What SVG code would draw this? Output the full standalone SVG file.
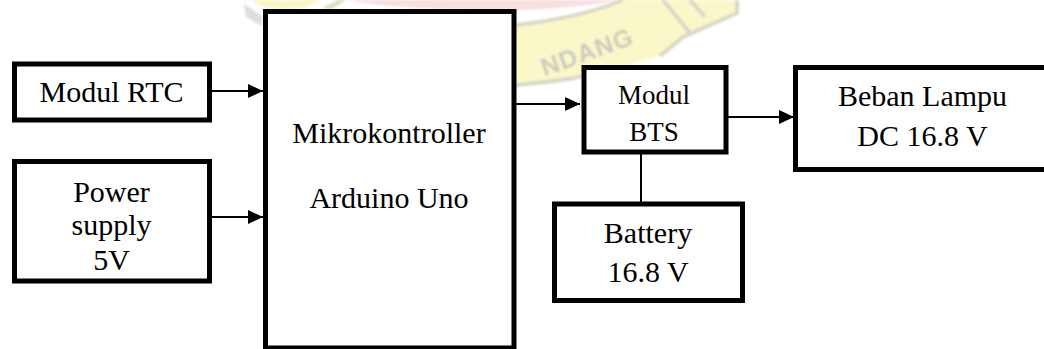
<svg xmlns="http://www.w3.org/2000/svg" width="1044" height="349" viewBox="0 0 1044 349">
<style>
.box{fill:#fff;stroke:#000;stroke-width:5}
.t{font-family:"Liberation Serif","Times New Roman",serif;font-size:30px;fill:#000;text-anchor:middle}
.s{font-size:27px}
.c{fill:none;stroke:#000;stroke-width:2}
.g{fill:none;stroke:#d8d8c8;stroke-width:4}
</style>
<defs>
<marker id="a" markerUnits="userSpaceOnUse" markerWidth="16" markerHeight="16" refX="15" refY="7.5" orient="auto"><path d="M0 0.5L15 7.5L0 14.5Z" fill="#000"/></marker>
<filter id="b"><feGaussianBlur stdDeviation="1"/></filter>
</defs>
<rect width="1044" height="349" fill="#fff"/>
<g id="watermark" filter="url(#b)">
<path d="M250 0H322Q300 12 275 9Q258 6 250 0Z" fill="#f8f6c8"/>
<path d="M244 4L262 16V26L246 17Z" fill="#dddddd"/>
<path d="M322 8L338 0H346L332 9Z" fill="#dcdcc0"/>
<path d="M346 0H620Q560 12 470 10Q390 8 346 0Z" fill="#f8dfe0"/>
<path d="M516 25Q580 18 623 0H737V13L683 37L660 56Q600 74 516 84Z" fill="#faf8c8"/>
<path class="g" d="M516 25Q580 18 623 0"/>
<path class="g" d="M516 85Q570 80 582 76"/>
<path class="g" d="M660 56L683 37L737 13V0"/>
<path class="g" d="M663 0L690 33"/>
<path class="g" d="M690 0L705 17"/>
<text x="590" y="60" transform="rotate(-20 590 60)" font-family="Liberation Sans,sans-serif" font-size="25" font-weight="bold" letter-spacing="1" fill="#cbcbc0" text-anchor="middle">NDANG</text>
</g>
<g id="connectors">
<path class="c" d="M212 91H263" marker-end="url(#a)"/>
<path class="c" d="M212 217H263" marker-end="url(#a)"/>
<path class="c" d="M516 104H580" marker-end="url(#a)"/>
<path class="c" d="M728 117H794" marker-end="url(#a)"/>
<path class="c" d="M641 154V203"/>
</g>
<g id="rtc"><rect class="box" x="14.5" y="64" width="195" height="56"/><text class="t" x="111.5" y="102">Modul RTC</text></g>
<g id="power"><rect class="box" x="14.5" y="161.5" width="195" height="119.5"/><text class="t" x="111.5" y="202">Power</text><text class="t" x="111.5" y="235">supply</text><text class="t" x="111.5" y="270">5V</text></g>
<g id="mcu"><rect class="box" x="265.5" y="11.5" width="248.5" height="336.5"/><text class="t" x="389" y="143">Mikrokontroller</text><text class="t" x="389" y="208">Arduino Uno</text></g>
<g id="bts"><rect class="box" x="584" y="67.5" width="142" height="84.5"/><text class="t s" x="654" y="104">Modul</text><text class="t s" x="654" y="141">BTS</text></g>
<g id="load"><rect class="box" x="795.5" y="67.5" width="270" height="102"/><text class="t" x="922.5" y="106">Beban Lampu</text><text class="t" x="922.5" y="146">DC 16.8 V</text></g>
<g id="battery"><rect class="box" x="554.5" y="204" width="188" height="96.5"/><text class="t" x="648" y="243">Battery</text><text class="t" x="648" y="282">16.8 V</text></g>
</svg>
